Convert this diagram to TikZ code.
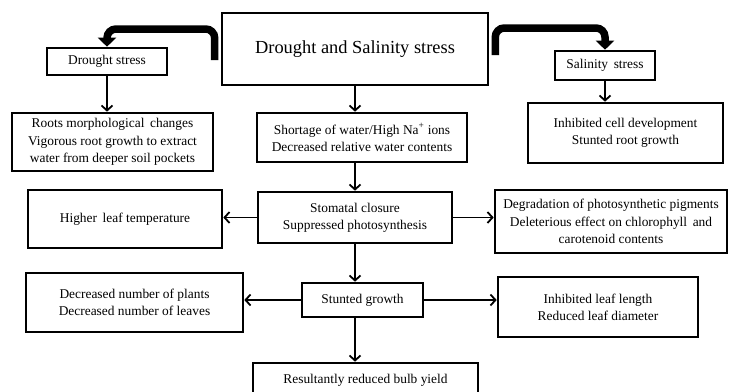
\documentclass[tikz,border=0pt]{standalone}
\usepackage{fontspec}
\setmainfont{Liberation Serif}
\usetikzlibrary{arrows.meta}
\begin{document}
\begin{tikzpicture}[x=1pt,y=-1pt,
    box/.style={draw, line width=2.6pt, align=center, inner sep=0pt,
        font=\fontsize{13.4}{17.3}\selectfont},
    arr/.style={line width=1.8pt, -{Straight Barb[length=5pt,width=11pt,line width=1.8pt]}},
    bigarr/.style={line width=7.5pt, rounded corners=9pt, -{Triangle[length=9pt,width=18pt]}}]
    \useasboundingbox (0,0) rectangle (730,391);
    % top level
    \node[box, minimum width=266pt, minimum height=72pt, font=\fontsize{18.4}{22}\selectfont] (main) at (355,49) {Drought and Salinity stress};
    \node[box, minimum width=120pt, minimum height=27pt] (drought) at (107,61.5) {Drought stress};
    \node[box, minimum width=100pt, minimum height=29pt] (sal) at (605,65.5) {Salinity\, stress};
    % second row
    \node[box, minimum width=201pt, minimum height=58pt] (roots) at (112.5,142) {Roots morphological\, changes\\Vigorous root growth to extract\\water from deeper soil pockets};
    \node[box, minimum width=210pt, minimum height=49pt] (short) at (362,137.5) {Shortage of water/High Na\textsuperscript{+} ions\\Decreased relative water contents};
    \node[box, minimum width=195pt, minimum height=60pt] (cell) at (625.5,133) {Inhibited cell development\\Stunted root growth};
    % third row
    \node[box, minimum width=194pt, minimum height=58pt] (high) at (125,219) {Higher\, leaf temperature};
    \node[box, minimum width=194pt, minimum height=51pt] (stom) at (355,217.5) {Stomatal closure\\Suppressed photosynthesis};
    \node[box, minimum width=232pt, minimum height=63pt] (degr) at (611,221.5) {Degradation of photosynthetic pigments\\Deleterious effect on chlorophyll\, and\\carotenoid contents};
    % fourth row
    \node[box, minimum width=217pt, minimum height=59pt] (plants) at (134.5,302.5) {Decreased number of plants\\Decreased number of leaves};
    \node[box, minimum width=121pt, minimum height=34pt] (stunt) at (362.5,300) {Stunted growth};
    \node[box, minimum width=200pt, minimum height=60pt] (leaf) at (598,307) {Inhibited leaf length\\Reduced leaf diameter};
    \node[box, minimum width=225pt, minimum height=34pt] (yield) at (365.5,380) {Resultantly reduced bulb yield};
    % thick arrows
    \draw[bigarr] ([shift={(-6,11)}]main.west) -- ++(0,-31) -| (drought.north);
    \draw[bigarr] ([shift={(6,6)}]main.east) -- ++(0,-27) -| (sal.north);
    % connectors
    \draw[arr] (drought.south) -- (drought.south |- roots.north);
    \draw[arr] (sal.south) -- (sal.south |- cell.north);
    \draw[arr] (main.south) -- (main.south |- short.north);
    \draw[arr] (short.south -| stom.north) -- (stom.north);
    \draw[arr] (stom.west) -- (stom.west -| high.east);
    \draw[arr] (stom.east) -- (stom.east -| degr.west);
    \draw[arr] (stom.south) -- (stom.south |- stunt.north);
    \draw[arr] (stunt.west) -- (stunt.west -| plants.east);
    \draw[arr] (stunt.east) -- (stunt.east -| leaf.west);
    \draw[arr] (stunt.south -| stom.south) -- (stom.south |- yield.north);
\end{tikzpicture}
\end{document}
